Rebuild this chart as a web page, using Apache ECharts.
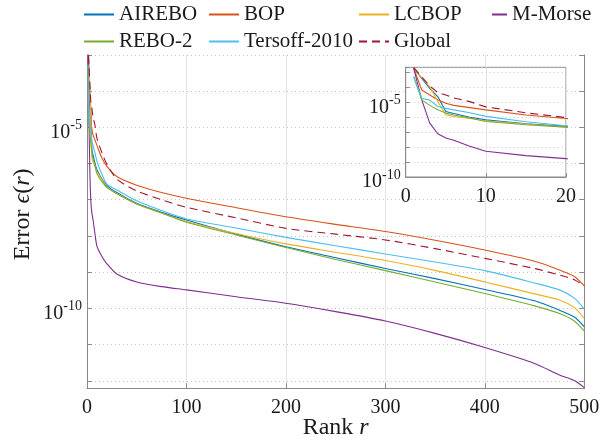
<!DOCTYPE html>
<html><head><meta charset="utf-8">
<script src="https://cdn.jsdelivr.net/npm/echarts@6/dist/echarts.min.js"></script>
<style>html,body{margin:0;padding:0;background:#fff}#c{width:602px;height:441px}</style>
</head><body><div id="c"></div>
<script>
// Rank r at which values were read
const ranks = [1,2,3,4,5,6,8,10,15,20,30,50,75,100,150,200,250,300,350,400,450,475,490,500];
const seriesNames = ['AIREBO','BOP','LCBOP','M-Morse','REBO-2','Tersoff-2010','Global'];
const airebo = [1.9e-3,4.07e-4,8.71e-5,2.45e-5,2.45e-6,1.78e-6,1.0e-6,6.76e-7,3.72e-7,2.45e-7,1.58e-7,7.94e-8,4.47e-8,2.75e-8,1.12e-8,5.01e-9,2.51e-9,1.26e-9,6.61e-10,3.31e-10,1.62e-10,8.9e-11,5.75e-11,3.09e-11];
const bop = [1.9e-3,6.76e-5,3.16e-5,1.48e-5,8.71e-6,6.31e-6,4.47e-6,3.16e-6,1.41e-6,8.32e-7,4.37e-7,2.51e-7,1.58e-7,1.10e-7,6.03e-8,3.39e-8,2.09e-8,1.32e-8,7.59e-9,4.07e-9,2.0e-9,1.15e-9,7.59e-10,4.17e-10];
const lcbop = [1.9e-3,4.57e-4,1.15e-4,1.15e-5,1.48e-6,1.12e-6,8.32e-7,5.89e-7,3.55e-7,2.19e-7,1.48e-7,7.59e-8,4.27e-8,2.51e-8,1.17e-8,6.03e-9,3.55e-9,2.09e-9,1.12e-9,5.37e-10,2.51e-10,1.70e-10,1.05e-10,5.25e-11];
const mmorse = [1.9e-3,1.48e-5,4.07e-7,7.94e-8,4.07e-8,2.88e-8,1.15e-8,5.25e-9,2.69e-9,1.70e-9,8.91e-10,5.37e-10,3.98e-10,3.24e-10,2.09e-10,1.38e-10,8.13e-11,4.47e-11,2.04e-11,8.32e-12,3.02e-12,1.45e-12,1.02e-12,6.46e-13];
const rebo2 = [5.25e-4,1.48e-5,6.31e-6,3.16e-6,1.91e-6,1.41e-6,8.91e-7,5.25e-7,3.16e-7,2.19e-7,1.45e-7,7.59e-8,4.27e-8,2.40e-8,1.07e-8,4.79e-9,2.24e-9,1.10e-9,5.37e-10,2.57e-10,1.17e-10,7.24e-11,4.47e-11,2.34e-11];
const tersoff = [5.25e-4,1.91e-5,1.41e-5,5.25e-6,3.98e-6,3.16e-6,2.0e-6,1.15e-6,5.01e-7,2.69e-7,1.86e-7,9.33e-8,5.01e-8,2.95e-8,1.66e-8,9.12e-9,5.37e-9,3.16e-9,1.91e-9,1.10e-9,5.01e-10,3.24e-10,1.91e-10,9.55e-11];
const globalErr = [2.19e-3,5.01e-4,1.26e-4,4.57e-5,3.16e-5,2.0e-5,1.12e-5,5.01e-6,2.0e-6,9.55e-7,3.72e-7,1.74e-7,1.0e-7,6.17e-8,3.16e-8,1.62e-8,1.12e-8,7.76e-9,4.47e-9,2.40e-9,1.26e-9,8.32e-10,6.17e-10,4.17e-10];
const xTicksMain = [0,100,200,300,400,500];
const xTicksInset = [0,10,20];
const yLabelExps = [-5,-10];

const values = [airebo,bop,lcbop,mmorse,rebo2,tersoff,globalErr];
const colors = ['#0072BD','#D95319','#EDB120','#7E2F8E','#77AC30','#4DBEEE','#A2142F'];
const FONT = 'Liberation Serif';
const TXT = '#1a1a1a';
const AX = '#8a8a8a';

function yLab(v){
  const l = Math.log10(v); const e = Math.round(l);
  if (Math.abs(l - e) > 0.02) return '';
  if (yLabelExps.indexOf(e) >= 0) return '{b|10}{s|' + e + '}';
  return '';
}
const labRich = {
  b:{fontSize:20,fontFamily:FONT,color:TXT},
  s:{fontSize:14,fontFamily:FONT,color:TXT,padding:[0,0,14,0]}
};
const pairs = arr => ranks.map((r,i)=>[r,arr[i]]);

const series = [];
series.push({type:'line',data:[],xAxisIndex:0,yAxisIndex:0,z:1,silent:true,
  markLine:{silent:true,symbol:['none','none'],label:{show:false},animation:false,
    lineStyle:{color:'#e4e4e4',type:'solid',width:1},
    data:yLabelExps.map(e=>({yAxis:Math.pow(10,e)}))}});
series.push({type:'line',data:[],xAxisIndex:1,yAxisIndex:2,z:7,silent:true,
  markLine:{silent:true,symbol:['none','none'],label:{show:false},animation:false,
    lineStyle:{color:'#e4e4e4',type:'solid',width:1},
    data:[{yAxis:1e-5}]}});
seriesNames.forEach((n,i)=>{
  const dashed = n === 'Global';
  series.push({name:n,type:'line',xAxisIndex:0,yAxisIndex:0,data:pairs(values[i]),
    showSymbol:false,symbol:'none',smooth:0.25,z:2,
    lineStyle:{color:colors[i],width:1.1,type:dashed?[8,5]:'solid'},itemStyle:{color:colors[i]}});
  series.push({name:n,type:'line',xAxisIndex:1,yAxisIndex:2,data:pairs(values[i]),
    showSymbol:false,symbol:'none',z:8,
    lineStyle:{color:colors[i],width:1.1,type:dashed?[8,5]:'solid'},itemStyle:{color:colors[i]}});
});

const legendPos = {
  'AIREBO':[83,4,30],'BOP':[208,4,30],'LCBOP':[358,4,30],'M-Morse':[491,4,15],
  'REBO-2':[83,31,30],'Tersoff-2010':[208,31,30],'Global':[358,31,30]
};
const legends = seriesNames.map(n=>({
  data:[n],left:legendPos[n][0],top:legendPos[n][1],padding:0,itemWidth:legendPos[n][2],itemHeight:14,
  itemStyle:{opacity:0},z:60,
  textStyle:{fontFamily:FONT,fontSize:21,color:TXT},selectedMode:false
}));

const option = {
  animation:false,
  backgroundColor:'#fff',
  legend:legends,
  graphic:[{type:'rect',left:0,top:0,shape:{width:602,height:54.5},style:{fill:'#fff'},z:50,silent:true}],
  grid:[
    {left:87,top:40.4,width:497.3,height:347.9,outerBoundsMode:'none',containLabel:false},
    {left:405.7,top:67.3,width:160.3,height:109.7,outerBoundsMode:'none',containLabel:false,show:true,backgroundColor:'#fff',borderColor:AX,borderWidth:1,z:5}
  ],
  xAxis:[
    {type:'value',gridIndex:0,min:xTicksMain[0],max:xTicksMain[xTicksMain.length-1],interval:100,
      axisLine:{lineStyle:{color:AX}},axisTick:{inside:true,length:5,lineStyle:{color:AX}},
      axisLabel:{fontFamily:FONT,fontSize:20,color:TXT,margin:9},
      splitLine:{show:true,lineStyle:{color:'#e4e4e4'}},
      name:'Rank {i|r}',nameLocation:'middle',nameGap:27,nameMoveOverlap:false,
      nameTextStyle:{fontFamily:FONT,fontSize:24,color:TXT,rich:{i:{fontFamily:FONT,fontSize:24,fontStyle:'italic',color:TXT}}}},
    {type:'value',gridIndex:1,min:xTicksInset[0],max:xTicksInset[xTicksInset.length-1],interval:10,z:6,
      axisLine:{lineStyle:{color:AX}},axisTick:{inside:true,length:4,lineStyle:{color:AX}},
      axisLabel:{fontFamily:FONT,fontSize:20,color:TXT,margin:10},
      splitLine:{show:true,lineStyle:{color:'#e4e4e4'}}}
  ],
  yAxis:[
    {type:'log',gridIndex:0,min:6.2e-13,max:2.51e-3,splitNumber:10,
      axisLine:{show:true,lineStyle:{color:AX}},axisTick:{show:true,inside:true,length:5,lineStyle:{color:AX}},
      axisLabel:{formatter:yLab,rich:labRich,margin:5,padding:[10,0,0,0]},
      splitLine:{show:true,lineStyle:{color:'#c4c4c4',type:[1,3]}},minorTick:{show:false},
      name:'Error {i|ϵ}({i|r})',nameLocation:'middle',nameRotate:90,nameGap:52,nameMoveOverlap:false,
      nameTextStyle:{fontFamily:FONT,fontSize:24,color:TXT,rich:{i:{fontFamily:FONT,fontSize:24,fontStyle:'italic',color:TXT}}}},
    {type:'log',gridIndex:0,position:'right',min:6.2e-13,max:2.51e-3,splitNumber:10,
      axisLine:{show:true,lineStyle:{color:AX}},axisTick:{show:true,inside:true,length:5,lineStyle:{color:AX}},
      axisLabel:{show:false},splitLine:{show:false}},
    {type:'log',gridIndex:1,min:1e-10,max:2.24e-3,splitNumber:8,z:6,
      axisLine:{show:true,lineStyle:{color:AX}},axisTick:{show:true,inside:true,length:4,lineStyle:{color:AX}},
      axisLabel:{formatter:yLab,rich:labRich,margin:5,padding:[10,0,0,0]},
      splitLine:{show:true,lineStyle:{color:'#c4c4c4',type:[1,3]}}}
  ],
  series:series
};
const chart = echarts.init(document.getElementById('c'));
chart.setOption(option);
</script></body></html>
